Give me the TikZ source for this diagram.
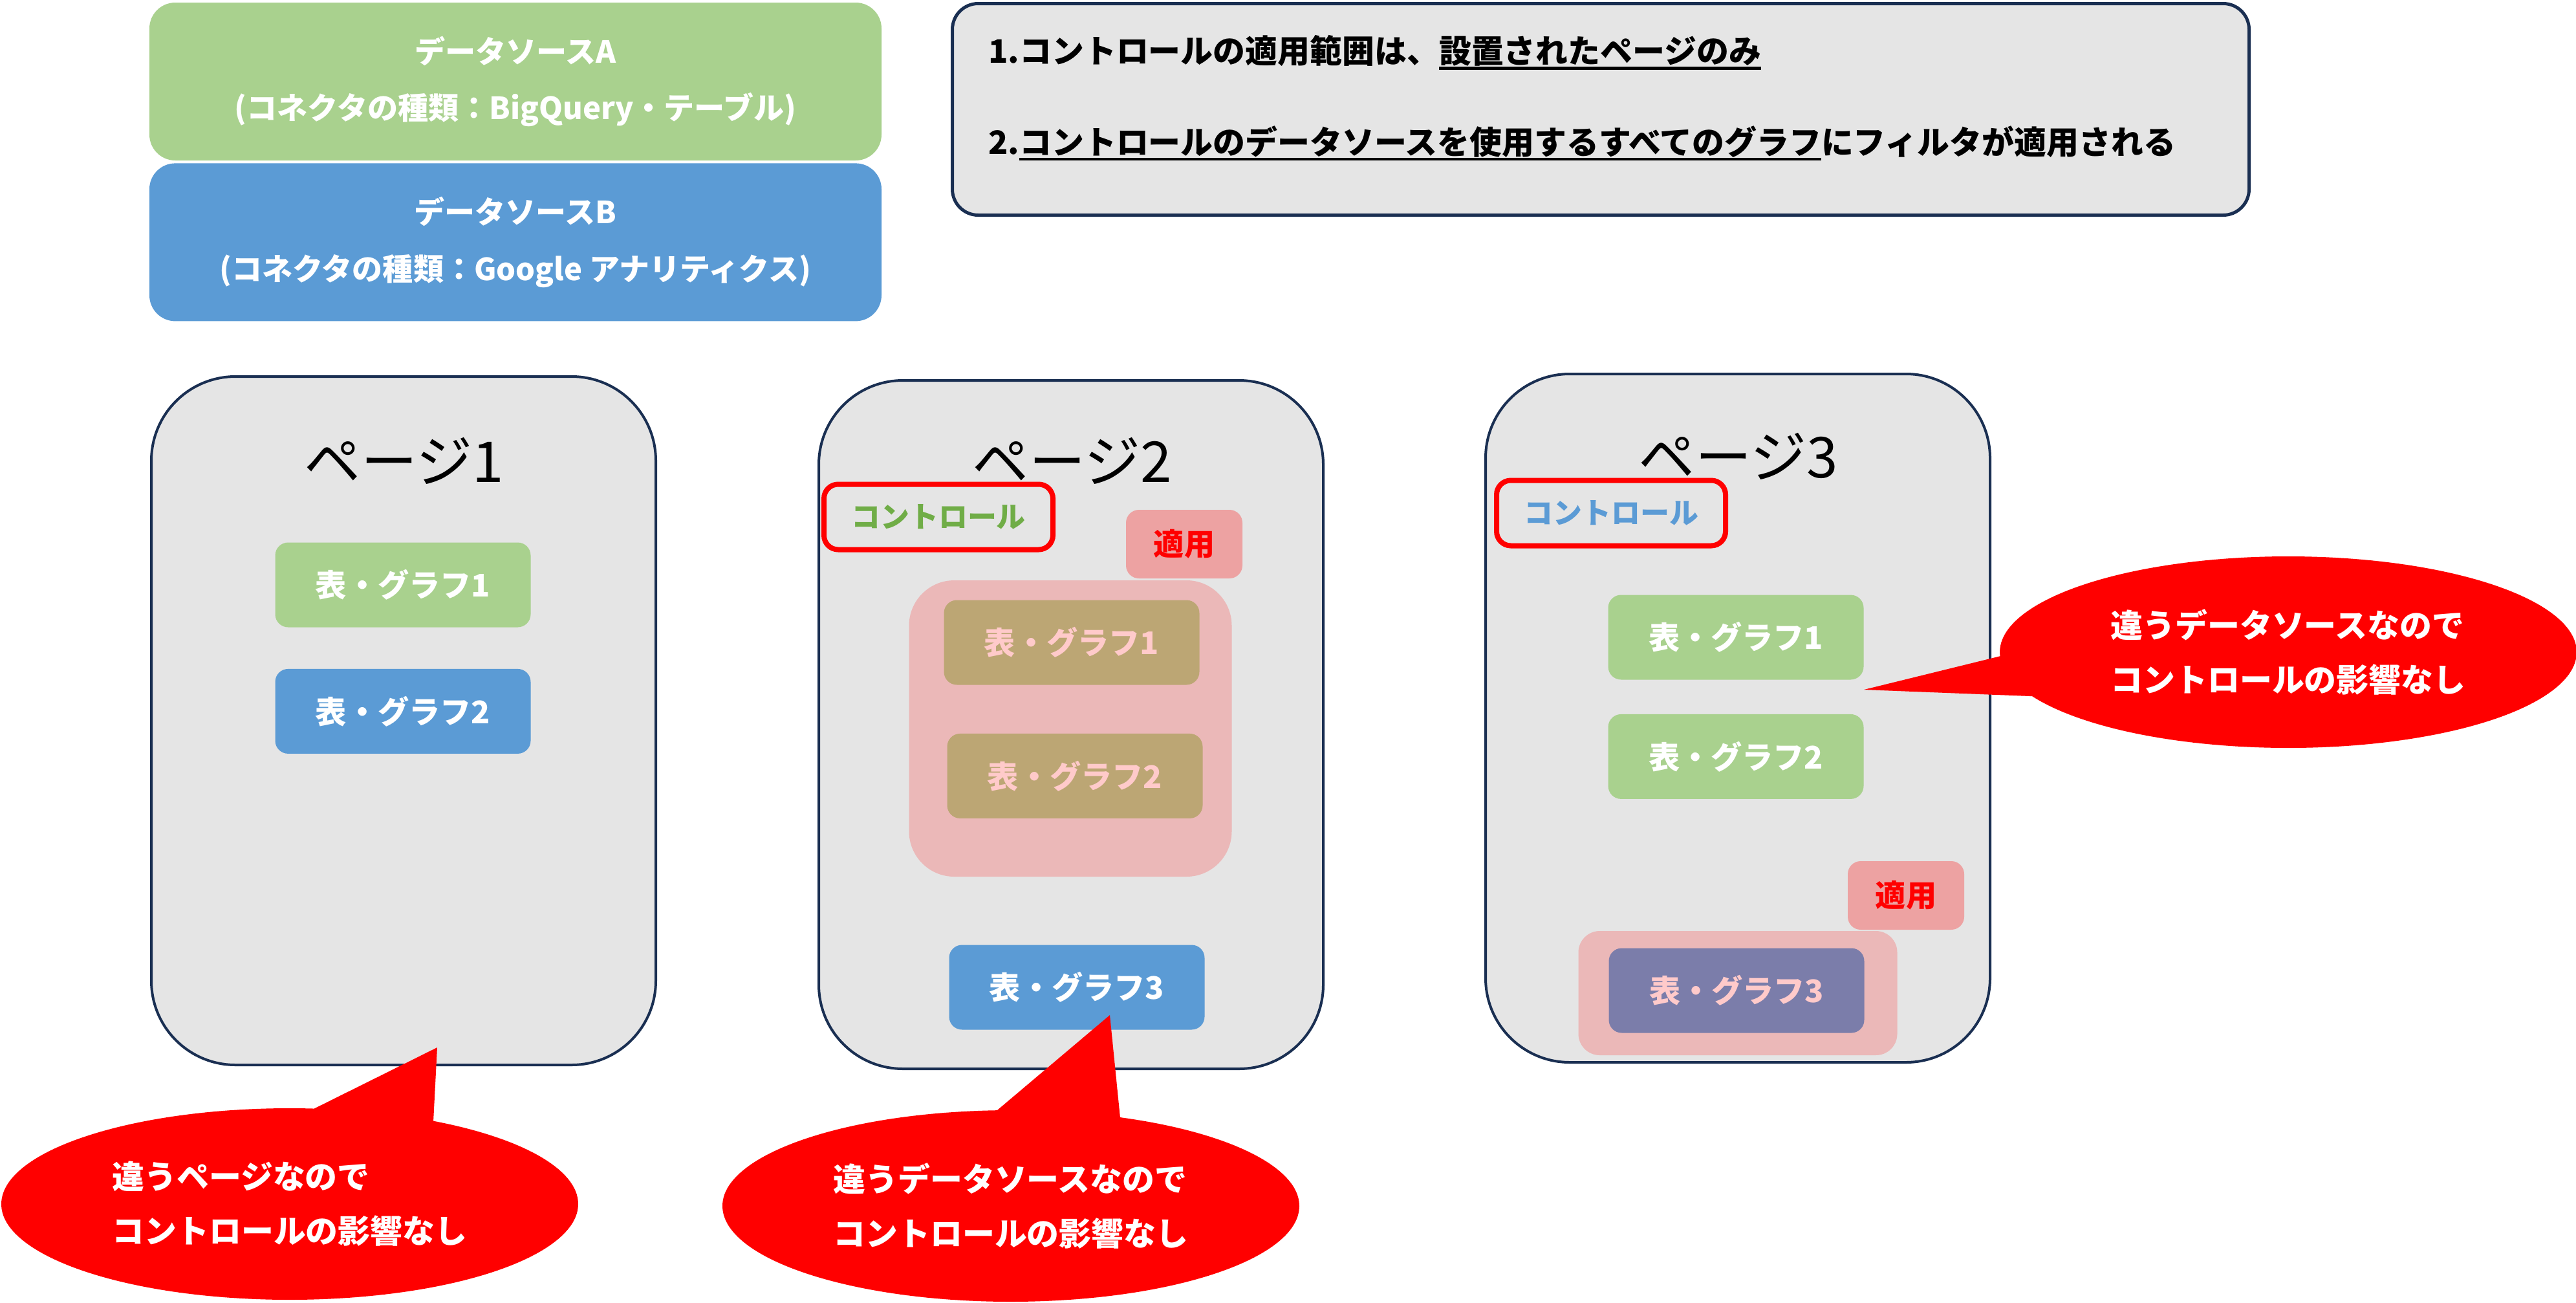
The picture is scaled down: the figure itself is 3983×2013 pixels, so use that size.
\documentclass[tikz,border=0pt]{standalone}
\usepackage{fontspec}
\setmainfont{Noto Sans CJK JP}
\usepackage{tikz}
\usetikzlibrary{positioning,shapes.callouts}
\usepackage{xcolor}
\definecolor{pgBack}{HTML}{E5E5E5}
\definecolor{pgLine}{HTML}{1A2F52}
\definecolor{srcGreen}{HTML}{A9D18E}
\definecolor{srcBlue}{HTML}{5B9BD5}
\definecolor{ctrlGreen}{HTML}{70AD47}
\definecolor{chartOlive}{HTML}{BCA674}
\definecolor{chartPurple}{HTML}{7B7DAA}
\definecolor{applyPink}{HTML}{EDA2A2}
\definecolor{groupPink}{HTML}{EBB8B8}
\definecolor{textPink}{HTML}{FFCACA}

% thick underline for the notes
\newcommand{\ulbar}[1]{\setbox0\hbox{#1}\rlap{\rule[-2.8pt]{\wd0}{1.2pt}}\box0}

\tikzset{
    pagebox/.style={draw=pgLine, line width=0.4mm, fill=pgBack, rounded corners=13mm, minimum width=78mm, minimum height=106.4mm},
    pagetitle/.style={font=\fontsize{24.8pt}{30pt}\selectfont},
    srcbox/.style={rounded corners=4mm, text=white, align=center, minimum width=113.2mm, minimum height=24.4mm, font=\fontsize{13.4pt}{25pt}\selectfont\bfseries},
    chartbox/.style={rounded corners=2mm, minimum width=39.5mm, minimum height=13.1mm, text=white, font=\fontsize{13.7pt}{16pt}\selectfont\bfseries},
    ctrlbox/.style={draw=red, line width=0.8mm, rounded corners=2.2mm, minimum width=35.4mm, minimum height=10.1mm, font=\fontsize{12.8pt}{15pt}\selectfont\bfseries},
    applybox/.style={fill=applyPink, text=red, rounded corners=2mm, minimum width=18mm, minimum height=10.6mm, font=\fontsize{13.4pt}{16pt}\selectfont\bfseries},
    groupbox/.style={fill=groupPink},
    bubble/.style={ellipse callout, fill=red, text=white, align=left, minimum width=89.2mm, minimum height=29.6mm, callout pointer arc=25, font=\fontsize{14.2pt}{23.9pt}\selectfont\bfseries}
}

\begin{document}
\begin{tikzpicture}[x=0.1mm, y=-0.1mm]
    \useasboundingbox (0,0) rectangle (3983,2013);

    % Data sources
    \node[srcbox, fill=srcGreen] (srcA) at (797,126) {データソースA\\(コネクタの種類：BigQuery・テーブル)};
    \node[srcbox, fill=srcBlue, below=0.3mm of srcA] (srcB) {データソースB\\(コネクタの種類：Google アナリティクス)};

    % Notes
    \node[draw=pgLine, line width=0.5mm, fill=pgBack, rounded corners=4mm, minimum width=200.5mm, minimum height=32.7mm] (notes) at (2475,169) {};
    \node[right=4.6mm of notes.west, yshift=1.75mm, align=left, font=\fontsize{14.2pt}{40pt}\selectfont\bfseries] (rules) {1.コントロールの適用範囲は、\ulbar{設置されたページのみ}\\2.\ulbar{コントロールのデータソースを使用するすべてのグラフ}にフィルタが適用される};

    % Pages
    \node[pagebox] (page1) at (624,1114) {};
    \node[pagebox] (page2) at (1656,1120) {};
    \node[pagebox] (page3) at (2687,1110) {};
    \node[pagetitle] (title1) at (625,712) {ページ1};
    \node[pagetitle] (title2) at (1658,712) {ページ2};
    \node[pagetitle] (title3) at (2688,705) {ページ3};

    % Page 1
    \node[chartbox, fill=srcGreen] (p1chart1) at (623,904) {表・グラフ1};
    \node[chartbox, fill=srcBlue, below=6.3mm of p1chart1] (p1chart2) {表・グラフ2};

    % Page 2
    \node[ctrlbox, text=ctrlGreen] (p2ctrl) at (1451,799) {コントロール};
    \node[applybox] (p2apply) at (1831,841) {適用};
    \node[groupbox, rounded corners=7mm, minimum width=49.9mm, minimum height=45.8mm] (p2group) at (1655,1126) {};
    \node[chartbox, fill=chartOlive, text=textPink] (p2chart1) at (1657,993) {表・グラフ1};
    \node[chartbox, fill=chartOlive, text=textPink, below=7.4mm of p2chart1, xshift=0.5mm] (p2chart2) {表・グラフ2};
    \node[chartbox, fill=srcBlue] (p2chart3) at (1665,1526) {表・グラフ3};

    % Page 3
    \node[ctrlbox, text=srcBlue] (p3ctrl) at (2491,793) {コントロール};
    \node[chartbox, fill=srcGreen] (p3chart1) at (2684,985) {表・グラフ1};
    \node[chartbox, fill=srcGreen, below=5.2mm of p3chart1] (p3chart2) {表・グラフ2};
    \node[applybox] (p3apply) at (2947,1384) {適用};
    \node[groupbox, rounded corners=3.3mm, minimum width=49.3mm, minimum height=19.2mm] (p3group) at (2687,1535) {};
    \node[chartbox, fill=chartPurple, text=textPink] (p3chart3) at (2685,1531) {表・グラフ3};

    % Callouts
    \coordinate (tip1) at (676,1619);
    \coordinate (tip2) at (1716,1569);
    \coordinate (tip3) at (2882,1066);
    \node[bubble, callout absolute pointer={(tip1)}] (bubble1) at (448,1861) {違うページなので\\コントロールの影響なし};
    \node[bubble, callout absolute pointer={(tip2)}] (bubble2) at (1563,1864) {違うデータソースなので\\コントロールの影響なし};
    \node[bubble, callout absolute pointer={(tip3)}] (bubble3) at (3538,1008) {違うデータソースなので\\コントロールの影響なし};

\end{tikzpicture}
\end{document}
